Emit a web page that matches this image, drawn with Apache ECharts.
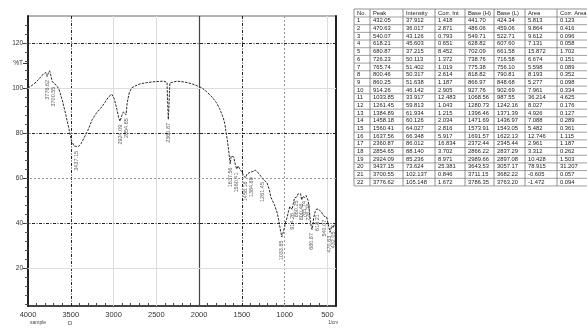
<!DOCTYPE html>
<html>
<head>
<meta charset="utf-8">
<script src="https://cdn.jsdelivr.net/npm/echarts@6/dist/echarts.min.js"></script>
<style>
html,body{margin:0;padding:0;background:#fff}
#c{width:587px;height:328px}
</style>
</head>
<body>
<div id="c"></div>
<script>
// IR transmittance spectrum: [wavenumber (1/cm), %T]
const spectrum = [
  [4000,100.0],[3950,101.2],[3900,102.8],[3850,104.9],[3820,106.2],[3790,106.8],[3776,105.1],
  [3765,106.3],[3748,107.6],[3735,105.8],[3718,103.0],[3700,102.1],[3690,102.6],[3672,101.4],
  [3640,99.6],[3600,94.7],[3560,88.5],[3520,81.6],[3490,76.3],[3460,74.2],[3437,73.6],
  [3410,74.0],[3380,75.3],[3340,78.2],[3300,81.2],[3250,85.9],[3200,88.9],[3150,91.0],
  [3100,93.6],[3060,96.0],[3020,97.2],[2990,95.0],[2960,90.3],[2940,86.8],[2924,85.2],
  [2905,87.6],[2885,89.4],[2870,89.0],[2854,88.1],[2840,93.5],[2815,98.2],[2785,100.1],
  [2740,101.0],[2690,101.8],[2620,102.3],[2540,102.7],[2470,102.9],[2410,103.0],[2375,102.4],
  [2366,92.0],[2360,86.0],[2352,92.5],[2342,102.2],[2320,102.9],[2260,103.0],[2188,102.7],
  [2130,102.3],[2083,101.8],[2020,100.9],[1966,100.0],[1910,98.3],[1850,96.0],[1800,93.6],
  [1760,90.8],[1720,87.0],[1700,84.2],[1685,80.4],[1670,76.8],[1655,72.5],[1637,66.3],
  [1625,69.8],[1610,70.6],[1595,69.4],[1578,66.2],[1560,64.0],[1545,65.4],[1525,64.1],
  [1505,63.0],[1480,61.2],[1458,60.1],[1440,61.8],[1420,62.6],[1400,62.7],[1384,61.9],
  [1370,62.9],[1345,63.6],[1330,63.5],[1300,62.0],[1280,60.9],[1261,59.8],[1240,59.9],
  [1207,58.0],[1180,54.9],[1163,51.8],[1150,50.6],[1120,48.2],[1090,45.0],[1070,41.5],
  [1050,37.0],[1033,33.9],[1020,35.6],[1000,38.5],[985,41.0],[970,42.7],[955,45.4],
  [940,47.4],[930,48.0],[914,46.1],[900,48.6],[885,51.2],[872,52.0],[860,51.6],[845,53.0],
  [830,53.7],[815,53.1],[800,50.3],[790,51.9],[779,52.6],[765,51.4],[750,52.3],[726,50.1],
  [712,45.5],[700,41.2],[690,38.6],[680,37.2],[670,39.3],[660,42.5],[645,45.0],[630,46.2],
  [618,45.6],[605,46.3],[587,45.8],[570,44.9],[555,44.8],[540,43.1],[525,43.9],[510,42.8],
  [500,41.0],[485,38.7],[470,36.0],[460,37.4],[450,38.9],[440,38.6],[432,37.9],[420,39.6],
  [410,40.1],[400,39.5]
];

// Peak table columns
const peakNo   = [1,2,3,4,5,6,7,8,9,10,11,12,13,14,15,16,17,18,19,20,21,22];
const peakWn   = [432.05,470.63,540.07,618.21,680.87,726.23,765.74,800.46,860.25,914.26,1033.85,
                  1261.45,1384.89,1458.18,1560.41,1637.56,2360.87,2854.65,2924.09,3437.15,3700.55,3776.62];
const peakInt  = [37.912,36.017,43.126,45.603,37.215,50.113,51.402,50.317,51.638,46.142,33.917,
                  59.813,61.934,60.126,64.027,66.348,86.012,88.140,85.236,73.624,102.137,105.148];
const corrInt  = [1.418,2.871,0.793,0.651,8.452,1.372,1.019,2.614,1.187,2.905,12.483,
                  1.043,1.215,2.034,2.816,5.917,16.834,3.702,8.971,25.381,0.846,1.672];
const baseH    = [441.70,486.06,549.71,628.82,702.09,738.76,775.38,818.82,866.97,927.76,1068.56,
                  1280.73,1396.46,1471.69,1573.91,1691.57,2372.44,2866.22,2989.66,3643.53,3711.15,3786.35];
const baseL    = [424.34,459.06,522.71,607.60,661.58,716.58,756.10,790.81,848.68,902.69,987.55,
                  1242.16,1371.39,1436.97,1543.05,1622.13,2345.44,2837.29,2897.08,3057.17,3682.22,3763.20];
const area     = [5.813,9.864,9.612,7.131,15.872,6.674,5.598,8.193,5.277,7.961,36.214,
                  8.027,4.926,7.088,5.482,12.746,2.961,3.312,10.428,78.915,-0.605,-1.472];
const corrArea = [0.123,0.416,0.096,0.058,1.702,0.151,0.089,0.352,0.098,0.334,4.625,
                  0.176,0.127,0.289,0.361,1.115,1.187,0.262,1.503,31.207,0.057,0.094];
const tableHeader = ['No.','Peak','Intensity','Corr. Int','Base (H)','Base (L)','Area','Corr. Area'];

// Axis ticks and labels
const xLabels = [4000,3500,3000,2500,2000,1500,1000,500];
const xMinorTicks = [];
for (let w = 500; w <= 3900; w += 100) xMinorTicks.push(w);
const yLabels = [20,40,60,80,100,111,120];
const yMinorTicks = [];
for (let t = 4; t <= 128; t += 4) yMinorTicks.push(t);

// Grid lines: [value, style]
const vGrid = [[3500,'dark'],[3000,'faint'],[2500,'faint'],[2000,'solid'],[1500,'dark'],[1000,'mid'],[500,'faint']];
const hGrid = [[120,'dark'],[100,'faint'],[80,'dark'],[60,'mid'],[40,'dark'],[20,'faint']];

const gridStyles = {
  dark:  {color:'#222', width:1, type:[3,1.5,1,1.5]},
  mid:   {color:'#999', width:1, type:[2,2]},
  faint: {color:'#ddd', width:1, type:'solid'},
  solid: {color:'#444', width:1.2, type:'solid'}
};

const FONT = 'Liberation Sans';
const chart = echarts.init(document.getElementById('c'), null, {renderer:'canvas'});

// Peak table drawn as graphic elements
const colX = [354, 370, 403, 435, 465, 494, 525, 557, 600];
const rowTop = 9, headH = 8, rowH = 7.68;
const nRows = peakNo.length;
const tableBottom = rowTop + headH + nRows * rowH;
const tableGraphics = [];
const lineCol = '#777';
tableGraphics.push({type:'line', shape:{x1:colX[0], y1:rowTop, x2:colX[8], y2:rowTop}, style:{stroke:lineCol, lineWidth:0.8}, silent:true});
for (let r = 0; r <= nRows; r++) {
  const y = rowTop + headH + r * rowH;
  tableGraphics.push({type:'line', shape:{x1:colX[0], y1:y, x2:colX[8], y2:y}, style:{stroke:lineCol, lineWidth:0.7}, silent:true});
}
for (let c = 0; c < colX.length - 1; c++) {
  tableGraphics.push({type:'line', shape:{x1:colX[c], y1:rowTop, x2:colX[c], y2:tableBottom}, style:{stroke:lineCol, lineWidth:0.8}, silent:true});
}
const cellText = (x, y, s) => ({
  type:'text', x:x, y:y, silent:true,
  style:{text:s, font:'5.8px "' + FONT + '"', fill:'#222', textAlign:'left', textVerticalAlign:'middle'}
});
tableHeader.forEach((h, c) => tableGraphics.push(cellText(colX[c] + 3, rowTop + headH / 2, h)));
const columns = [
  peakNo.map(String),
  peakWn.map(v => v.toFixed(2)),
  peakInt.map(v => v.toFixed(3)),
  corrInt.map(v => v.toFixed(3)),
  baseH.map(v => v.toFixed(2)),
  baseL.map(v => v.toFixed(2)),
  area.map(v => v.toFixed(3)),
  corrArea.map(v => v.toFixed(3))
];
for (let r = 0; r < nRows; r++) {
  const y = rowTop + headH + r * rowH + rowH / 2;
  columns.forEach((col, c) => tableGraphics.push(cellText(colX[c] + 3, y, col[r])));
}

const gridLines = [];
vGrid.forEach(([v, s]) => gridLines.push({xAxis: v, lineStyle: gridStyles[s]}));
hGrid.forEach(([v, s]) => gridLines.push({yAxis: v, lineStyle: gridStyles[s]}));

chart.setOption({
  animation: false,
  backgroundColor: '#fff',
  textStyle: {fontFamily: FONT},
  grid: {left: 28, top: 16, width: 308, height: 290, show: true, borderColor: '#666', borderWidth: 1},
  xAxis: {
    type: 'value', min: 400, max: 4000, inverse: true,
    axisLine: {lineStyle: {color: '#222', width: 1.5}},
    axisTick: {inside: true, length: 3, customValues: xMinorTicks, lineStyle: {color: '#444'}},
    axisLabel: {customValues: xLabels, fontSize: 7.5, color: '#333', margin: 5, fontFamily: FONT,
                formatter: v => String(v)},
    splitLine: {show: false}
  },
  yAxis: [
    {
      type: 'value', min: 3.3, max: 131.9, position: 'left',
      axisLine: {show: true, lineStyle: {color: '#222', width: 2}},
      axisTick: {show: true, length: 5, customValues: yLabels, lineStyle: {color: '#333'}},
      axisLabel: {customValues: yLabels, fontSize: 6.5, color: '#333', margin: 5, fontFamily: FONT,
                  formatter: v => (v === 111 ? '%T' : String(v))},
      splitLine: {show: false}
    },
    {
      type: 'value', min: 3.3, max: 131.9, position: 'left',
      axisLine: {show: false},
      axisTick: {show: true, length: 3, customValues: yMinorTicks, lineStyle: {color: '#555'}},
      axisLabel: {show: false},
      splitLine: {show: false}
    },
    {
      type: 'value', min: 3.3, max: 131.9, position: 'right',
      axisLine: {show: true, lineStyle: {color: '#222', width: 2}},
      axisTick: {show: false}, axisLabel: {show: false}, splitLine: {show: false}
    }
  ],
  series: [
    {
      type: 'line', data: spectrum, showSymbol: false, symbol: 'none', z: 3,
      lineStyle: {color: '#2a2a2a', width: 1, type: [2.5, 1.2]},
      markLine: {silent: true, symbol: 'none', label: {show: false}, data: gridLines, z: 1}
    },
    {
      type: 'scatter', z: 4,
      data: peakWn.map((w, i) => [w, peakInt[i]]),
      symbolSize: 1, itemStyle: {color: 'rgba(0,0,0,0)'},
      label: {
        show: true, position: 'bottom', distance: 3, rotate: 90,
        align: 'right', verticalAlign: 'middle',
        fontSize: 5.5, color: '#333', fontFamily: FONT,
        formatter: p => p.value[0].toFixed(2)
      },
      labelLayout: {hideOverlap: false}
    }
  ],
  graphic: tableGraphics.concat([
    {type:'text', x: 30, y: 320, silent: true, style:{text:'sample', font:'5px "' + FONT + '"', fill:'#444'}},
    {type:'text', x: 68, y: 320, silent: true, style:{text:'D', font:'6px "' + FONT + '"', fill:'#444'}},
    {type:'text', x: 338, y: 320, silent: true, style:{text:'1/cm', font:'4.5px "' + FONT + '"', fill:'#444', textAlign:'right'}}
  ])
});
</script>
</body>
</html>
